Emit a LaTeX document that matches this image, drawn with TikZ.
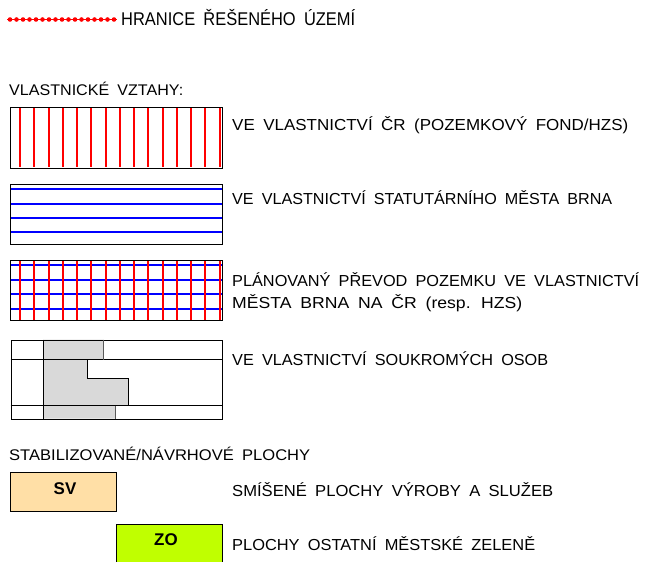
\documentclass[tikz,border=0pt]{standalone}
\usepackage{fontspec}
\setmainfont{Liberation Sans}[WordSpace=1.8]
\usepackage{graphicx}
\newcommand\fitw[2]{\resizebox{#1}{\height}{#2}}
\definecolor{svcol}{HTML}{FFDFA6}
\definecolor{zocol}{HTML}{C0FF00}
\begin{document}
\begin{tikzpicture}[x=1bp,y=-1bp,
  lbl/.style={anchor=base west, inner sep=0pt, font=\fontsize{16}{18}\selectfont},
  frame/.style={draw=black, line width=1bp},
  redh/.style={draw=red, line width=1.6bp},
  blueh/.style={draw=blue, line width=1.6bp},
  swatch/.style={line width=1bp, anchor=north west, inner sep=0pt},
  code/.style={inner sep=0pt, font=\bfseries\fontsize{17}{17}\selectfont}]
\useasboundingbox (0,0) rectangle (652,562);

% boundary line sample
\draw[red, line width=0.8bp] (7,19.5) -- (117,19.5);
\foreach \i in {0,...,16} \fill[red] (10+6.5*\i,19.5) circle (2.3bp);
\node[lbl, font=\fontsize{18.5}{20}\selectfont] (t0) at (121,25.7) {\fitw{234bp}{HRANICE ŘEŠENÉHO ÚZEMÍ}};

\node[lbl, font=\fontsize{15.5}{18}\selectfont] (t1) at (9,96) {\fitw{174bp}{VLASTNICKÉ VZTAHY:}};

% box 1: red verticals
\node[swatch, minimum width=211bp, minimum height=60bp] (b1) at (10.5,107.5) {};
\foreach \x in {20,34,49,63,77,91,106,120,134,148,163,177,191,205,220}
  \draw[redh] (\x,107.5) -- (\x,167.5);
\draw[frame] (b1.north west) rectangle (b1.south east);
\node[lbl] (t2) at (232,130.7) {\fitw{396bp}{VE VLASTNICTVÍ ČR (POZEMKOVÝ FOND/HZS)}};

% box 2: blue horizontals
\node[swatch, minimum width=211bp, minimum height=59bp] (b2) at (10.5,184.5) {};
\foreach \y in {189,204,218,232} \draw[blueh] (10.5,\y) -- (221.5,\y);
\draw[frame] (b2.north west) rectangle (b2.south east);
\node[lbl] (t3) at (232,205) {\fitw{380bp}{VE VLASTNICTVÍ STATUTÁRNÍHO MĚSTA BRNA}};

% box 3: grid
\node[swatch, minimum width=211bp, minimum height=59bp] (b3) at (10.5,260.5) {};
\foreach \y in {265,280,294,309} \draw[blueh] (10.5,\y) -- (221.5,\y);
\foreach \x in {20,34,49,63,77,91,106,120,134,148,163,177,191,205,220}
  \draw[redh] (\x,260.5) -- (\x,319.5);
\draw[frame] (b3.north west) rectangle (b3.south east);
\node[lbl] (t4a) at (232,286.7) {\fitw{407bp}{PLÁNOVANÝ PŘEVOD POZEMKU VE VLASTNICTVÍ}};
\node[lbl] (t4b) at (232,308.3) {\fitw{290bp}{MĚSTA BRNA NA ČR (resp. HZS)}};

% box 4: private parcels
\fill[gray!30] (43.5,339.5) -- (103.5,339.5) -- (103.5,359.5) -- (87.5,359.5) -- (87.5,378.5)
  -- (128.5,378.5) -- (128.5,405.5) -- (115.5,405.5) -- (115.5,418.5) -- (43.5,418.5) -- cycle;
\node[swatch, draw=black, minimum width=211bp, minimum height=79bp] (b4) at (10.5,339.5) {};
\draw[frame] (10.5,359.5) -- (221.5,359.5);
\draw[frame] (10.5,405.5) -- (221.5,405.5);
\draw[frame] (43.5,339.5) -- (43.5,418.5);
\draw[draw=gray!70!black, line width=1.2bp] (103.5,339.5) -- (103.5,359.5);
\draw[frame] (87.5,359.5) -- (87.5,378.5) -- (128.5,378.5) -- (128.5,405.5);
\draw[draw=gray!70!black, line width=1.2bp] (115.5,405.5) -- (115.5,418.5);
\node[lbl] (t5) at (232,365) {\fitw{316bp}{VE VLASTNICTVÍ SOUKROMÝCH OSOB}};

\node[lbl, font=\fontsize{15.5}{18}\selectfont] (t6) at (9,460.7) {\fitw{301bp}{STABILIZOVANÉ/NÁVRHOVÉ PLOCHY}};

% SV
\node[swatch, draw=black, fill=svcol, minimum width=106bp, minimum height=39bp] (sv) at (9.5,471.5) {};
\node[code] (svt) at (65,488.5) {SV};
\node[lbl] (t7) at (232,496.7) {\fitw{321bp}{SMÍŠENÉ PLOCHY VÝROBY A SLUŽEB}};

% ZO
\node[swatch, draw=black, fill=zocol, minimum width=106bp, minimum height=50bp] (zo) at (115.5,523.5) {};
\node[code] (zot) at (166,540) {ZO};
\node[lbl] (t8) at (232,550) {\fitw{303bp}{PLOCHY OSTATNÍ MĚSTSKÉ ZELENĚ}};
\end{tikzpicture}
\end{document}
